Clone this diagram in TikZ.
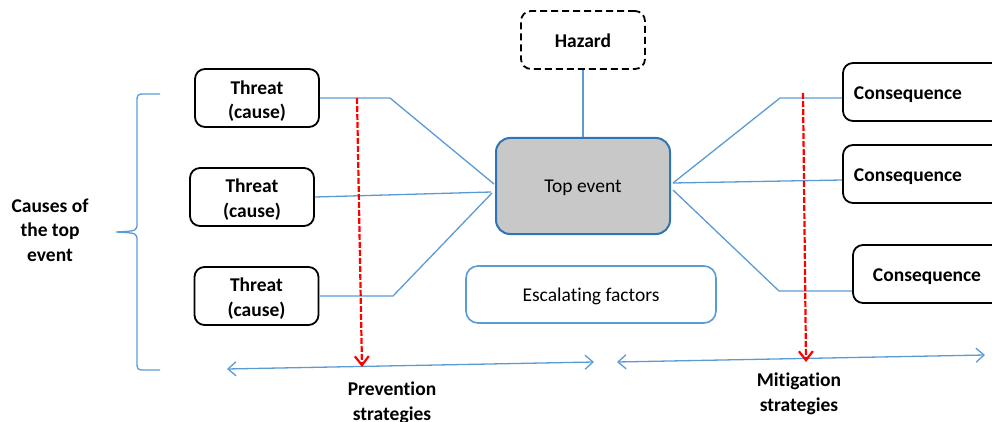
\documentclass[tikz,border=0pt]{standalone}
\usepackage{fontspec}
\setmainfont{Carlito}[Ligatures=NoCommon]
\usetikzlibrary{arrows.meta,calc}
\definecolor{linkblue}{HTML}{5B9BD5}
\definecolor{edgeblue}{HTML}{2E75B6}
\definecolor{topgray}{HTML}{C8C8C8}
\begin{document}
\begin{tikzpicture}[x=1pt,y=-1pt,
  every node/.style={font=\fontsize{19.5}{24.5}\selectfont, align=center, inner sep=0pt},
  boxbase/.style={rounded corners=10pt, line width=1.8pt, minimum height=58pt},
  threatbox/.style={boxbase, draw=black, minimum width=124pt},
  conbox/.style={boxbase, draw=black, minimum width=160pt},
  hazardbox/.style={boxbase, draw=black, dashed, dash pattern=on 7pt off 4pt, minimum width=124pt},
  topbox/.style={rounded corners=14pt, draw=edgeblue, fill=topgray, line width=2pt, minimum width=174pt, minimum height=96pt},
  escbox/.style={rounded corners=12pt, draw=linkblue, line width=1.6pt, minimum width=250pt, minimum height=57pt},
  boldlabel/.style={font=\fontsize{19.5}{24.5}\selectfont\bfseries},
  plainlabel/.style={font=\fontsize{19.5}{24.5}\selectfont},
  link/.style={draw=linkblue, line width=1.3pt},
  span/.style={draw=linkblue, line width=1.3pt, {Straight Barb[length=8pt,width=14pt]}-{Straight Barb[length=8pt,width=14pt]}},
  barrier/.style={draw=red, line width=2.2pt, dash pattern=on 6pt off 2pt, -{Straight Barb[length=9pt,width=14pt]}}
]
\useasboundingbox (0,0) rectangle (992,422);

% central event, hazard and escalating factors
\node[hazardbox] (hazard) at (583,40) {};
\node[boldlabel] (hazardt) at (583,41) {Hazard};
\node[topbox] (top) at (583,186) {};
\node[plainlabel] (topt) at (583,187.5) {Top event};
\node[escbox] (esc) at (591,294.5) {};
\node[plainlabel] (esct) at (591,296) {Escalating factors};

% threats on the left
\node[threatbox] (t1) at (257,98) {};
\node[threatbox] (t2) at (252,197) {};
\node[threatbox] (t3) at (256.5,296) {};
\node[boldlabel] (t1t) at (257,101) {Threat\\(cause)};
\node[boldlabel] (t2t) at (252,199.5) {Threat\\(cause)};
\node[boldlabel] (t3t) at (256.5,298.5) {Threat\\(cause)};

% consequences on the right (boxes run past the right edge)
\node[conbox] (c1) at (923,92) {};
\node[conbox] (c2) at (923,174) {};
\node[conbox] (c3) at (933,274) {};
\node[boldlabel] (c1t) at (908,94.5) {Consequence};
\node[boldlabel] (c2t) at (908,177) {Consequence};
\node[boldlabel] (c3t) at (927,276.5) {Consequence};

% bend points of the connectors
\coordinate (k1) at (390,98);
\coordinate (k3) at (393,296);
\coordinate (r1) at (780,98);
\coordinate (r3) at (779,291);
\coordinate (c1in) at (c1.west |- r1);
\coordinate (c3in) at (c3.west |- r3);

% hazard to top event
\draw[link] (hazard.south) -- (top.north);

% threat lines converging on the top event
\draw[link] (t1.east |- k1) -- (k1) -- ($(top.west)+(-1,-2)$);
\draw[link] (t2.east) -- ($(top.west)+(-4,6)$);
\draw[link] (t3.east |- k3) -- (k3) -- ($(top.west)+(-3,7)$);

% consequence lines leaving the top event
\draw[link] ($(top.east)+(2,-3)$) -- (r1) -- (c1in);
\draw[link] ($(top.east)+(2,-3)$) -- ($(c2.west)+(0,6)$);
\draw[link] ($(top.east)+(2,4)$) -- (r3) -- (c3in);

% brace grouping the causes
\draw[link] (160,94) -- (146,94) .. controls (137,94) .. (137,103) -- (137,223)
  .. controls (137,231) .. (116,232) .. controls (137,233) .. (137,241) -- (137,361)
  .. controls (137,370) .. (146,370) -- (160,370);
\node[boldlabel] (causes) at (50,230) {Causes of\\the top\\event};

% barrier spans
\coordinate (pl) at (227,369);
\coordinate (pr) at (594,362);
\coordinate (ml) at (617,362);
\coordinate (mr) at (985,355);
\draw[span] (pl) -- (pr);
\draw[span] (ml) -- (mr);

% barrier lines
\coordinate (ps) at (357,98);
\coordinate (pe) at (362,367);
\coordinate (ms) at (803,93);
\coordinate (me) at (806,362);
\draw[barrier] (ps) -- (pe);
\draw[barrier] (ms) -- (me);

\node[boldlabel] (prev) at (392,403) {Prevention\\strategies};
\node[boldlabel] (mitig) at (799,394) {Mitigation\\strategies};
\end{tikzpicture}
\end{document}
